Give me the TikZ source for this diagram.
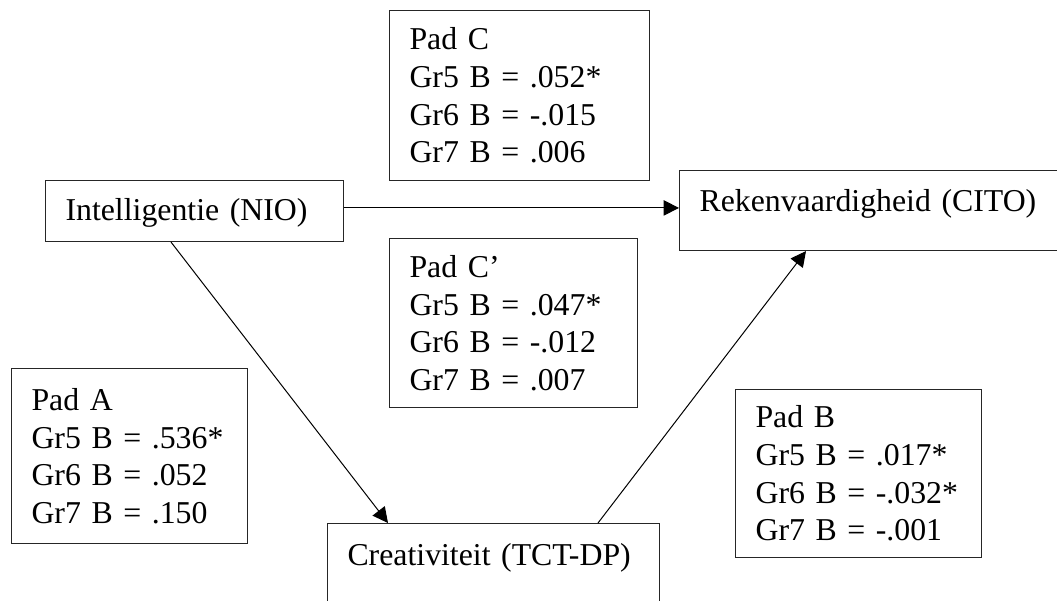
\documentclass[tikz,border=0pt]{standalone}
\usepackage{fontspec}
\setmainfont{Liberation Serif}
\usetikzlibrary{arrows.meta,calc}

\tikzset{
  box/.style={draw=black!85, line width=0.8pt, anchor=north west, inner xsep=15pt, inner ysep=0pt,
    align=left, font=\fontsize{23.85}{28.2}\selectfont},
  arr/.style={line width=0.75pt, -{Triangle[length=11.5pt,width=11.5pt]}}
}

\begin{document}
\begin{tikzpicture}[x=0.75pt,y=-0.75pt]
\useasboundingbox (0,0) rectangle (1057,600);
\clip (0,0) rectangle (1057,600);

% variables
\node[box, text width=193.5pt, text height=30pt, text depth=15.75pt] (intel) at (45,180) {Intelligentie (NIO)};
\node[box, text width=285.75pt, text height=30.75pt, text depth=29.25pt] (reken) at (679,170) {Rekenvaardigheid (CITO)};
\node[box, text width=219pt, text height=31.5pt, text depth=28.5pt] (crea) at (327,523) {Creativiteit (TCT-DP)};

% paths
\node[box, text width=165pt, minimum height=127.5pt] (padC) at (389,10)
  {Pad C\\Gr5 B = .052*\\Gr6 B = -.015\\Gr7 B = .006};
\node[box, text width=156pt, minimum height=126.75pt] (padCc) at (389,238)
  {Pad C’\\Gr5 B = .047*\\Gr6 B = -.012\\Gr7 B = .007};
\node[box, text width=147pt, minimum height=131.25pt] (padA) at (11,368)
  {Pad A\\Gr5 B = .536*\\Gr6 B = .052\\Gr7 B = .150};
\node[box, text width=154.5pt, minimum height=126pt] (padB) at (735,389)
  {Pad B\\Gr5 B = .017*\\Gr6 B = -.032*\\Gr7 B = -.001};

\coordinate (c0) at ($(intel.north east)!.45!(intel.south east)$);
\draw[arr] (c0) -- (c0 -| reken.west);
\draw[arr] ($(intel.south west)+(126,0)$) -- ($(crea.north west)+(61,0)$);
\draw[arr] ($(crea.north west)+(271,0)$) -- ($(reken.south west)+(127,0)$);
\end{tikzpicture}
\end{document}
